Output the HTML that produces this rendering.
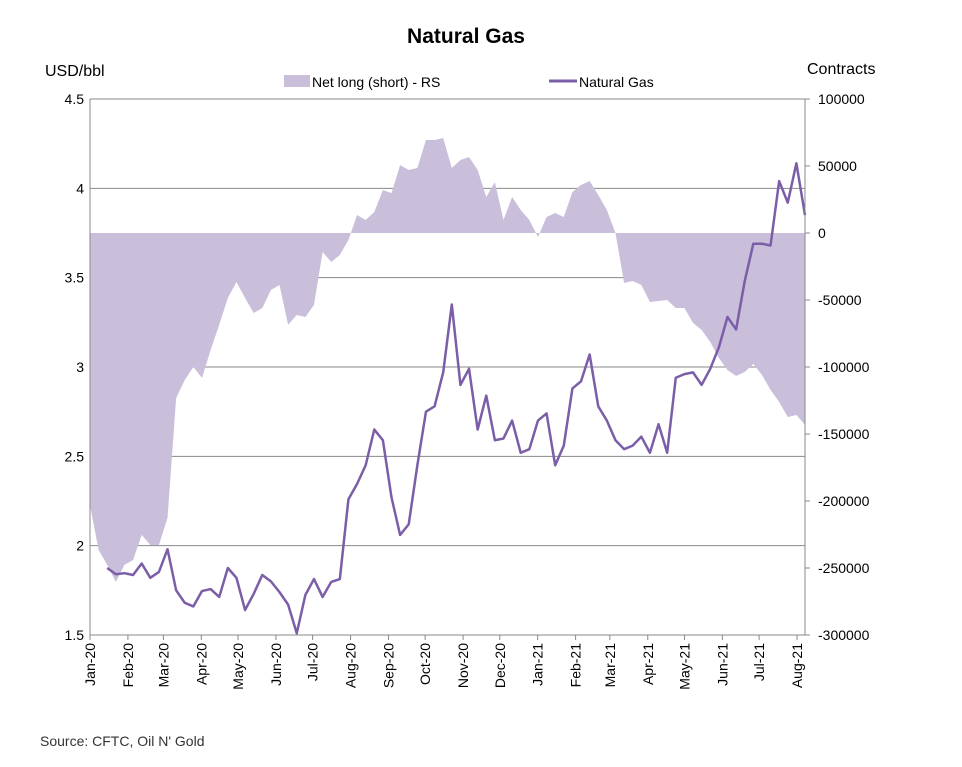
<!DOCTYPE html>
<html><head><meta charset="utf-8"><style>
body{margin:0;background:#fff;font-family:"Liberation Sans",sans-serif}
svg{display:block}
</style></head><body>
<svg id="chart" width="962" height="767" xmlns="http://www.w3.org/2000/svg" font-family="Liberation Sans, sans-serif">
<text x="466" y="43" text-anchor="middle" font-size="21" font-weight="bold">Natural Gas</text>
<text x="45" y="76" font-size="16">USD/bbl</text>
<text x="807" y="74" font-size="16">Contracts</text>
<g>
<rect x="284" y="75" width="26" height="12" fill="#c9bfdb"/>
<text x="312" y="87" font-size="14">Net long (short) - RS</text>
<line x1="549" y1="81" x2="577" y2="81" stroke="#7b5ea7" stroke-width="3"/>
<text x="579" y="87" font-size="14">Natural Gas</text>
</g>
<g id="grid"></g>
<g id="area"></g>
<g id="line"></g>
<g id="axes"></g>
<text x="40" y="746" font-size="14" fill="#333">Source: CFTC, Oil N' Gold</text>
</svg>
<script>
const netLong=[-203000,-236500,-247700,-260400,-247700,-244000,-225300,-232800,-232800,-212600,-123100,-109700,-100000,-108200,-87300,-68600,-48500,-36600,-48500,-59700,-56000,-42500,-38800,-68600,-61200,-62700,-53700,-14200,-21600,-16400,-5200,13400,9700,15700,32100,29800,50700,47000,48500,69400,69400,70900,48500,54500,56700,47000,26900,38000,9700,26900,17200,9700,-3000,11900,14900,11900,30600,35800,38800,28400,17200,0,-37300,-35800,-38800,-51500,-50700,-50000,-56000,-56000,-67100,-72400,-81300,-93300,-102200,-106700,-103700,-97700,-105900,-117100,-126100,-137300,-135800,-143200];
const gasPrice=[1.875,1.84,1.846,1.836,1.90,1.82,1.853,1.98,1.75,1.68,1.66,1.746,1.757,1.713,1.875,1.82,1.64,1.73,1.836,1.80,1.74,1.67,1.51,1.724,1.813,1.713,1.797,1.813,2.26,2.345,2.45,2.65,2.59,2.27,2.06,2.12,2.45,2.75,2.78,2.97,3.35,2.90,2.99,2.65,2.84,2.59,2.60,2.70,2.52,2.54,2.70,2.74,2.45,2.56,2.88,2.92,3.07,2.78,2.70,2.59,2.54,2.56,2.61,2.52,2.68,2.52,2.94,2.96,2.97,2.90,2.99,3.11,3.28,3.21,3.48,3.69,3.69,3.68,4.04,3.92,4.14,3.85];
const leftTicks=[1.5,2,2.5,3,3.5,4,4.5];
const rightTicks=[-300000,-250000,-200000,-150000,-100000,-50000,0,50000,100000];
const monthLabels=["Jan-20","Feb-20","Mar-20","Apr-20","May-20","Jun-20","Jul-20","Aug-20","Sep-20","Oct-20","Nov-20","Dec-20","Jan-21","Feb-21","Mar-21","Apr-21","May-21","Jun-21","Jul-21","Aug-21"];
const monthDays=[0,31,60,91,121,152,182,213,244,274,305,335,366,397,425,456,486,517,547,578];

const X0=90,X1=805,Y0=99,Y1=635;
const yL=v=>Y1-(v-1.5)/3*(Y1-Y0);
const yR=v=>Y1-(v+300000)/400000*(Y1-Y0);
const n=netLong.length, step=(X1-X0)/(n-1);
const xi=i=>X0+i*step;
const xd=d=>X0+d*(797-X0)/578;
const NS="http://www.w3.org/2000/svg";
function mk(tag,attrs,parent){const e=document.createElementNS(NS,tag);for(const k in attrs)e.setAttribute(k,attrs[k]);parent.appendChild(e);return e;}
const grid=document.getElementById('grid'),axes=document.getElementById('axes');
leftTicks.forEach(v=>{
  const l=mk('line',{x1:X0,x2:X1,y1:yL(v),y2:yL(v),stroke:'#888','stroke-width':1},grid);
  
  
  const t=mk('text',{x:X0-6,y:yL(v)+5,'text-anchor':'end','font-size':14},axes);
  t.textContent=String(v);
  
  
});
rightTicks.forEach(v=>{
  const t=mk('text',{x:X1+13,y:yR(v)+5,'font-size':14},axes);
  t.textContent=String(v);
  
  
  const k=mk('line',{x1:X1,x2:X1+5,y1:yR(v),y2:yR(v),stroke:'#888'},axes);
  
  
});
let a=mk('line',{x1:X0,x2:X0,y1:Y0,y2:Y1,stroke:'#888'},axes);

a=mk('line',{x1:X1,x2:X1,y1:Y0,y2:Y1,stroke:'#888'},axes);

monthLabels.forEach((m,i)=>{
  const x=xd(monthDays[i]);
  const k=mk('line',{x1:x,x2:x,y1:Y1,y2:Y1+5,stroke:'#888'},axes);
  
  
  const t=mk('text',{x:0,y:0,'text-anchor':'end','font-size':14,transform:`translate(${x+5},${Y1+8}) rotate(-90)`},axes);
  t.textContent=m;
  
  
});
let pts=`${xi(0)},${yR(0)} `+netLong.map((v,i)=>`${xi(i)},${yR(v)}`).join(' ')+` ${xi(n-1)},${yR(0)}`;
const poly=mk('polygon',{points:pts,fill:'#c9bfdb'},document.getElementById('area'));


const off=n-gasPrice.length;
const pl=mk('polyline',{points:gasPrice.map((v,i)=>`${xi(i+off)},${yL(v)}`).join(' '),fill:'none',stroke:'#7b5ea7','stroke-width':2.5,'stroke-linejoin':'round'},document.getElementById('line'));


</script>
</body></html>
